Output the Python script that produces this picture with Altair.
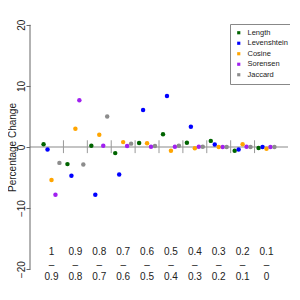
import altair as alt
import pandas as pd

series = ["Length", "Levenshtein", "Cosine", "Sorensen", "Jaccard"]
colors = ["#006400", "#0000ff", "#ffa500", "#a020f0", "#8c8c8c"]
top_labels = ["1", "0.9", "0.8", "0.7", "0.6", "0.5", "0.4", "0.3", "0.2", "0.1"]
bottom_labels = ["0.9", "0.8", "0.7", "0.6", "0.5", "0.4", "0.3", "0.2", "0.1", "0"]

length_vals = [0.45, -2.8, 0.2, -1.0, 0.65, 2.1, 0.7, 1.0, -0.6, -0.15]
levenshtein_vals = [-0.4, -4.7, -7.8, -4.5, 6.05, 8.35, 3.3, 0.4, -0.4, 0.0]
cosine_vals = [-5.4, 3.0, 2.0, 0.8, 0.6, -0.6, -0.2, 0.0, 0.45, -0.3]
sorensen_vals = [-7.8, 7.65, 0.2, 0.15, 0.05, 0.05, 0.05, 0.0, 0.05, 0.0]
jaccard_vals = [-2.6, -2.85, 5.0, 0.55, 0.15, 0.2, 0.05, 0.0, 0.0, 0.0]

all_vals = [length_vals, levenshtein_vals, cosine_vals, sorensen_vals, jaccard_vals]

rows = []
for j, (name, vals) in enumerate(zip(series, all_vals)):
    for i, v in enumerate(vals):
        rows.append({"series": name, "x": (i + 1) + (j - 2) * 0.166, "value": v})
df = pd.DataFrame(rows)

groups = list(range(1, 11))
lab_df = pd.DataFrame({"g": groups, "top": top_labels, "bottom": bottom_labels, "dash": ["\u2013"] * 10})
div_df = pd.DataFrame({"x": [g + 0.5 for g in groups[:-1]]})

FONT = "Liberation Sans"
xs = alt.Scale(domain=[0.1, 10.9], nice=False, zero=False)
ys = alt.Scale(domain=[-21.6, 21.6], nice=False, zero=False)

zero_line = alt.Chart().mark_rule(color="#c4c4c4", strokeWidth=2).encode(y=alt.datum(0, scale=ys))

yaxis_line = alt.Chart().mark_rule(color="#666666", strokeWidth=1).encode(
    x=alt.value(0), y=alt.datum(-20, scale=ys), y2=alt.datum(20)
)

dividers = alt.Chart(div_df).mark_rule(color="#999999", strokeWidth=1).encode(
    x=alt.X("x:Q", scale=xs, axis=None),
    y=alt.datum(-1, scale=ys),
    y2=alt.datum(1.1),
)

points = alt.Chart(df).mark_circle(size=20, opacity=1).encode(
    x=alt.X("x:Q", scale=xs, axis=None),
    y=alt.Y(
        "value:Q",
        scale=ys,
        axis=alt.Axis(
            values=[-20, -10, 0, 10, 20],
            grid=False,
            domain=False,
            tickSize=4,
            tickColor="#666666",
            labelFontSize=10,
            labelFont=FONT,
            labelColor="#222222",
            labelAngle=270,
            labelAlign="center",
            labelBaseline="alphabetic",
            labelPadding=1.5,
            title="Percentage Change",
            titleFont=FONT,
            titleFontSize=10,
            titleFontWeight="normal",
            titleColor="#222222",
            titleAngle=270,
            titleAlign="center",
            titleBaseline="alphabetic",
            titleX=-14.5,
            titleY=132,
        ),
    ),
    color=alt.Color(
        "series:N",
        scale=alt.Scale(domain=series, range=colors),
        legend=alt.Legend(
            title=None,
            orient="none",
            legendX=200,
            legendY=9,
            strokeColor="#888888",
            fillColor="white",
            padding=5,
            symbolType="square",
            symbolSize=10,
            labelFontSize=7.5,
            labelFont=FONT,
            labelColor="#222222",
            labelOffset=5,
            rowPadding=1.5,
        ),
    ),
)

def text_layer(field, yval):
    return alt.Chart(lab_df).mark_text(font=FONT, fontSize=10, color="#222222", baseline="middle").encode(
        x=alt.X("g:Q", scale=xs, axis=None),
        y=alt.datum(yval, scale=ys),
        text=f"{field}:N",
    )

chart = alt.layer(
    zero_line,
    yaxis_line,
    dividers,
    points,
    text_layer("top", -17.26),
    text_layer("dash", -19.3),
    text_layer("bottom", -21.2),
).properties(
    width=258,
    height=264,
    autosize=alt.AutoSizeParams(type="none"),
    padding={"left": 22, "top": 7, "right": 2, "bottom": 5},
).configure_view(stroke=None)

chart.save("out.html", embed_options={"renderer": "svg", "actions": False})
